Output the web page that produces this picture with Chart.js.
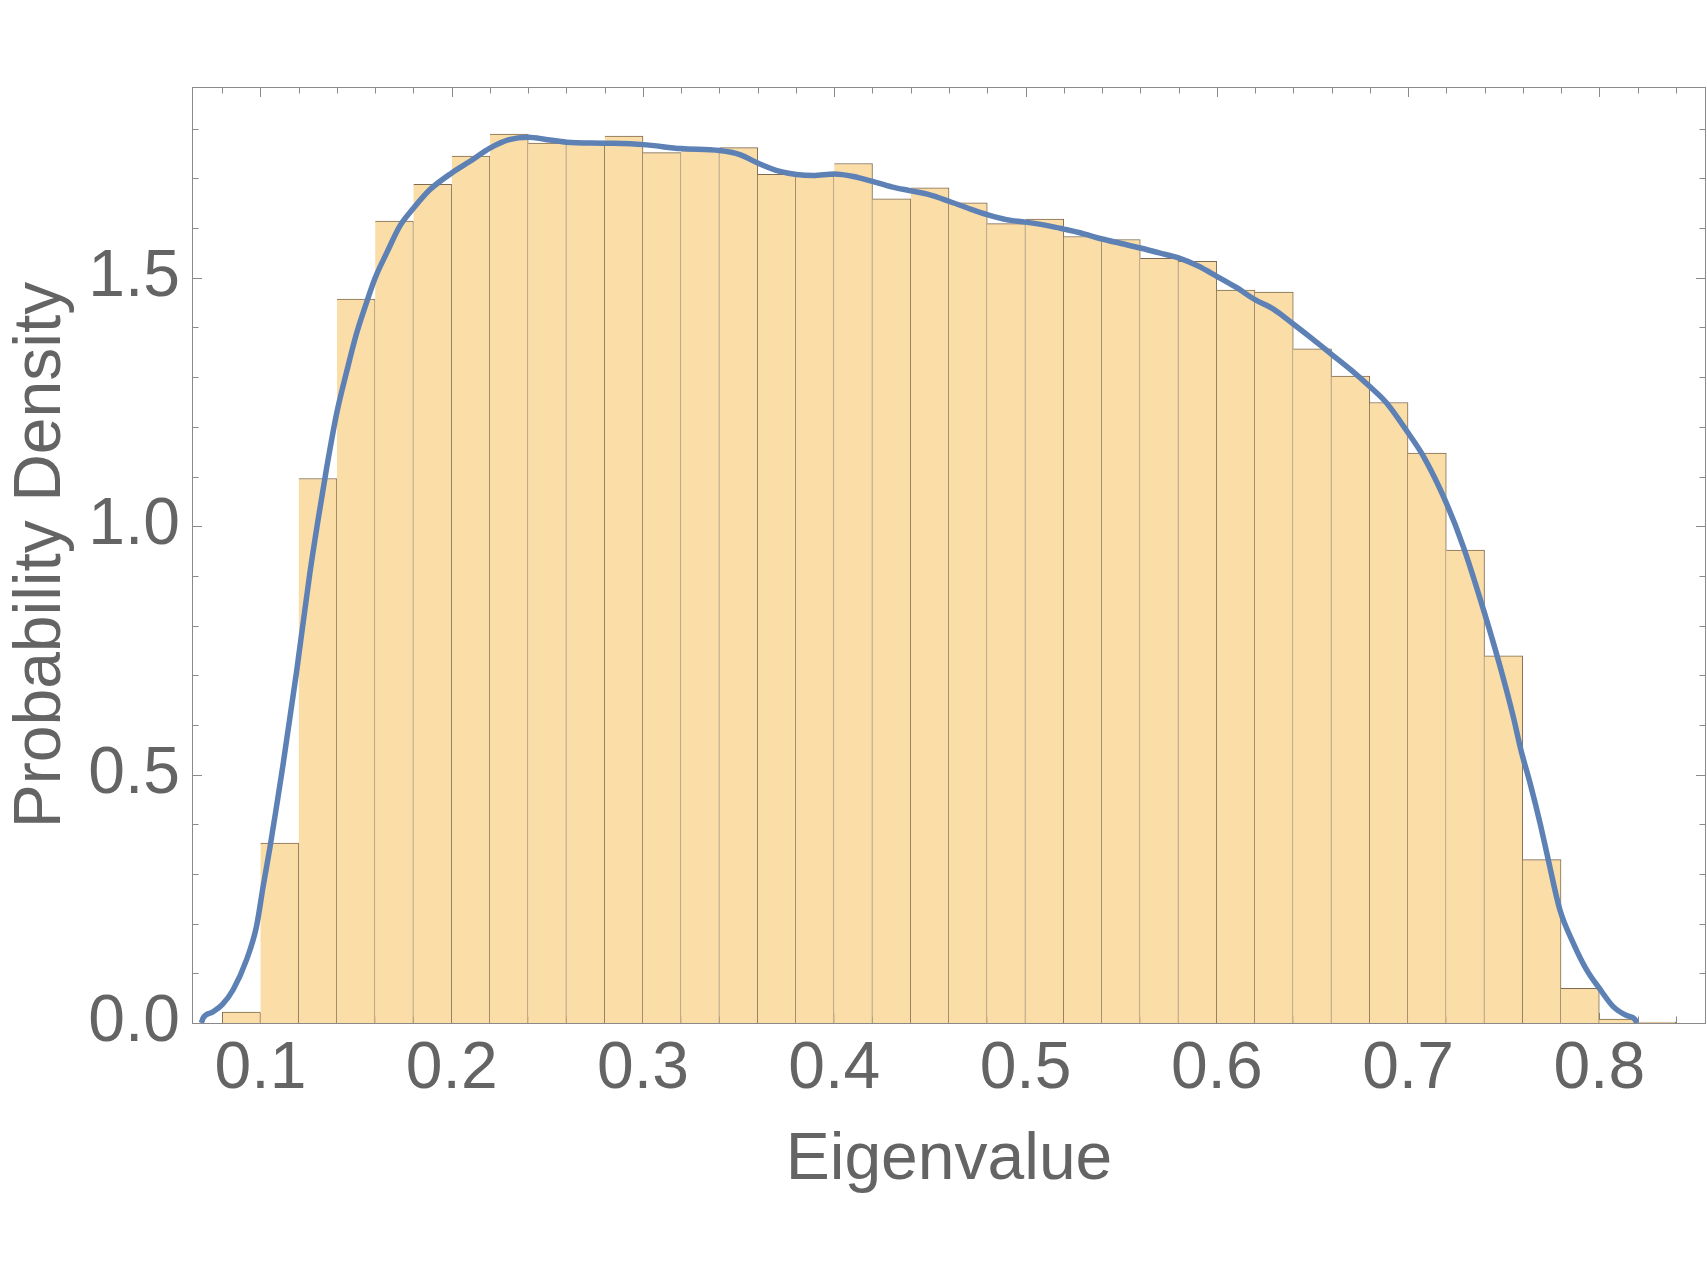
<!DOCTYPE html>
<html>
<head>
<meta charset="utf-8">
<title>Eigenvalue density</title>
<script src="https://cdn.jsdelivr.net/npm/chart.js@4.4.1/dist/chart.umd.min.js"></script>
<style>
  body { margin: 0; background: #fff; }
  #chart { display: block; }
</style>
</head>
<body>
<canvas id="chart" width="1707" height="1280"></canvas>
<script>
// histogram bins, width 0.02, given by their left edge
const binStarts = [0.08, 0.10, 0.12, 0.14, 0.16, 0.18, 0.20, 0.22, 0.24, 0.26,
                   0.28, 0.30, 0.32, 0.34, 0.36, 0.38, 0.40, 0.42, 0.44, 0.46,
                   0.48, 0.50, 0.52, 0.54, 0.56, 0.58, 0.60, 0.62, 0.64, 0.66,
                   0.68, 0.70, 0.72, 0.74, 0.76, 0.78, 0.80, 0.82];
const binHeights = [0.022, 0.362, 1.096, 1.457, 1.614, 1.688, 1.745, 1.789, 1.771, 1.775,
                    1.785, 1.752, 1.756, 1.762, 1.708, 1.704, 1.730, 1.659, 1.681, 1.651,
                    1.609, 1.618, 1.583, 1.577, 1.539, 1.533, 1.475, 1.471, 1.357, 1.302,
                    1.249, 1.147, 0.952, 0.739, 0.329, 0.070, 0.008, 0.002];
const binWidth = 0.02;

// smooth density curve
const curveX = [0.0691, 0.0700, 0.0750, 0.0800, 0.0857, 0.0927, 0.0979, 0.1014, 0.1049, 0.1084,
                0.1118, 0.1188, 0.1258, 0.1300, 0.1345, 0.1400, 0.1450, 0.1500, 0.1550, 0.1600,
                0.1660, 0.1730, 0.1800, 0.1885, 0.2000, 0.2094, 0.2200, 0.2300, 0.2400, 0.2500,
                0.2600, 0.2800, 0.3000, 0.3200, 0.3400, 0.3506, 0.3600, 0.3716, 0.3803, 0.3890,
                0.4000, 0.4100, 0.4200, 0.4300, 0.4400, 0.4500, 0.4600, 0.4700, 0.4800, 0.4900,
                0.5000, 0.5128, 0.5200, 0.5300, 0.5400, 0.5500, 0.5600, 0.5700, 0.5800, 0.5900,
                0.6000, 0.6100, 0.6200, 0.6300, 0.6400, 0.6500, 0.6600, 0.6700, 0.6800, 0.6888,
                0.7000, 0.7080, 0.7200, 0.7289, 0.7400, 0.7481, 0.7550, 0.7590, 0.7638, 0.7690,
                0.7733, 0.7794, 0.7864, 0.7934, 0.8000, 0.8073, 0.8143, 0.8191, 0.8195];
const curveY = [0.000, 0.010, 0.022, 0.037, 0.067, 0.127, 0.194, 0.275, 0.352, 0.436,
                0.520, 0.705, 0.905, 1.010, 1.115, 1.230, 1.310, 1.385, 1.445, 1.500,
                1.550, 1.605, 1.640, 1.677, 1.711, 1.734, 1.761, 1.778, 1.783, 1.778,
                1.773, 1.771, 1.768, 1.760, 1.756, 1.748, 1.731, 1.714, 1.708, 1.706,
                1.709, 1.704, 1.694, 1.683, 1.675, 1.667, 1.654, 1.640, 1.627, 1.617,
                1.612, 1.604, 1.598, 1.589, 1.578, 1.569, 1.560, 1.550, 1.540, 1.524,
                1.503, 1.481, 1.456, 1.436, 1.407, 1.377, 1.346, 1.315, 1.281, 1.248,
                1.188, 1.141, 1.047, 0.959, 0.825, 0.718, 0.617, 0.550, 0.483, 0.403,
                0.329, 0.228, 0.161, 0.107, 0.070, 0.033, 0.015, 0.005, 0.000];

const xTickValues = [0.1, 0.2, 0.3, 0.4, 0.5, 0.6, 0.7, 0.8];
const yTickValues = [0.0, 0.5, 1.0, 1.5];
const xRange = [0.0642, 0.8558];
const yRange = [0, 1.884];
const xTitle = 'Eigenvalue';
const yTitle = 'Probability Density';

const textColor = '#646464';
const frameColor = '#8a8a8a';
const fontFamily = "'Liberation Sans', Arial, sans-serif";

function minorValues(from, to, step, majors) {
    const out = [];
    for (let i = 0; from + i * step <= to + 1e-9; i++) {
        const v = Math.round((from + i * step) * 1000) / 1000;
        if (!majors.some(m => Math.abs(m - v) < 1e-6)) out.push(v);
    }
    return out;
}
const xMinor = minorValues(0.08, 0.84, 0.02, xTickValues);
const yMinor = minorValues(0.1, 1.8, 0.1, yTickValues);

// Mathematica-like frame with inward ticks on all four sides
const frameTicks = {
    id: 'frameTicks',
    beforeDatasetsDraw(chart) {
        const { ctx, chartArea: a, scales: { x, y } } = chart;
        ctx.save();
        ctx.strokeStyle = frameColor;
        ctx.lineWidth = 1;
        ctx.beginPath();
        const xt = xTickValues.map(v => [v, 10]).concat(xMinor.map(v => [v, 6.5]));
        xt.forEach(([v, len]) => {
            const px = Math.round(x.getPixelForValue(v)) + 0.5;
            ctx.moveTo(px, a.bottom); ctx.lineTo(px, a.bottom - len);
            ctx.moveTo(px, a.top); ctx.lineTo(px, a.top + len);
        });
        const yt = yTickValues.map(v => [v, 10]).concat(yMinor.map(v => [v, 6.5]));
        yt.forEach(([v, len]) => {
            const py = Math.round(y.getPixelForValue(v)) + 0.5;
            ctx.moveTo(a.left, py); ctx.lineTo(a.left + len, py);
            ctx.moveTo(a.right, py); ctx.lineTo(a.right - len, py);
        });
        ctx.stroke();
        ctx.restore();
    },
    afterDraw(chart) {
        const { ctx, chartArea: a } = chart;
        ctx.save();
        ctx.strokeStyle = frameColor;
        ctx.lineWidth = 1;
        ctx.strokeRect(Math.round(a.left) + 0.5, Math.round(a.top) + 0.5,
                       Math.round(a.right - a.left) - 1, Math.round(a.bottom - a.top));
        ctx.restore();
    }
};

const ctx = document.getElementById('chart').getContext('2d');
new Chart(ctx, {
    type: 'bar',
    data: {
        datasets: [
            {
                type: 'line',
                label: 'density',
                data: curveX.map((v, i) => ({ x: v, y: curveY[i] })),
                borderColor: '#5e81b5',
                borderWidth: 5.5,
                pointRadius: 0,
                cubicInterpolationMode: 'monotone',
                fill: false,
                order: 0
            },
            {
                type: 'bar',
                label: 'histogram',
                data: binStarts.map((s, i) => ({ x: s + binWidth / 2, y: binHeights[i] })),
                backgroundColor: '#fbdda8',
                borderColor: '#7c6a52',
                borderWidth: c => ({ top: 1, right: 1, bottom: 0, left: c.dataIndex === 0 ? 1 : 0 }),
                borderSkipped: false,
                barPercentage: 1,
                categoryPercentage: 1,
                order: 1
            }
        ]
    },
    options: {
        responsive: false,
        animation: false,
        devicePixelRatio: 1,
        layout: { padding: { top: 87, right: 1, left: 0, bottom: 0 } },
        plugins: { legend: { display: false }, tooltip: { enabled: false } },
        scales: {
            x: {
                type: 'linear',
                min: xRange[0],
                max: xRange[1],
                offset: false,
                grid: { display: false, drawTicks: false, offset: false },
                border: { display: false },
                afterBuildTicks: s => { s.ticks = xTickValues.map(v => ({ value: v })); },
                afterFit: s => { s.height = 257; },
                ticks: {
                    autoSkip: false,
                    maxRotation: 0,
                    padding: 14,
                    color: textColor,
                    font: { family: fontFamily, size: 66, lineHeight: 1 },
                    callback: v => v.toFixed(1)
                },
                title: {
                    display: true,
                    text: xTitle,
                    color: textColor,
                    font: { family: fontFamily, size: 66, lineHeight: 1 },
                    padding: { top: 0, bottom: 86 }
                }
            },
            y: {
                min: yRange[0],
                max: yRange[1],
                grid: { display: false, drawTicks: false },
                border: { display: false },
                afterBuildTicks: s => { s.ticks = yTickValues.map(v => ({ value: v })); },
                afterFit: s => { s.width = 192; },
                ticks: {
                    padding: 12,
                    color: textColor,
                    font: { family: fontFamily, size: 66, lineHeight: 1 },
                    callback: v => v.toFixed(1)
                },
                title: {
                    display: true,
                    text: yTitle,
                    color: textColor,
                    font: { family: fontFamily, size: 66, lineHeight: 1 },
                    padding: { top: 9, bottom: 0 }
                }
            }
        }
    },
    plugins: [frameTicks]
});
</script>
</body>
</html>
